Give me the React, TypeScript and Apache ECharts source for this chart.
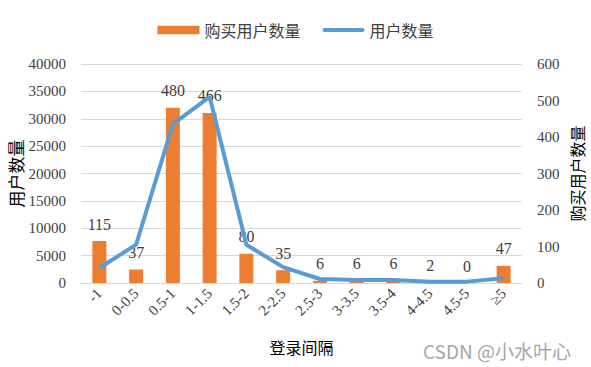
import React, { useEffect, useRef } from "react";
import * as echarts from "echarts";

const categories = ["-1", "0-0.5", "0.5-1", "1-1.5", "1.5-2", "2-2.5", "2.5-3", "3-3.5", "3.5-4", "4-4.5", "4.5-5", "≥5"];
const buyUsers = [115, 37, 480, 466, 80, 35, 6, 6, 6, 2, 0, 47];
const users = [2750, 7000, 29000, 34000, 7000, 2900, 730, 550, 550, 250, 250, 850];
const leftTicks = { min: 0, max: 40000, interval: 5000 };
const rightTicks = { min: 0, max: 600, interval: 100 };

const serif = "'Liberation Serif', 'Times New Roman', serif";
const cjk = "'Noto Sans CJK SC', sans-serif";

export default function App() {
  const ref = useRef<HTMLDivElement>(null);
  useEffect(() => {
    const chart = echarts.init(ref.current!, undefined, { renderer: "svg" });
    chart.setOption({
      animation: false,
      legend: {
        top: 17,
        left: "center",
        itemWidth: 42,
        itemHeight: 10,
        itemGap: 22,
        symbolKeepAspect: true,
        textStyle: { fontFamily: cjk, fontSize: 16, color: "#404040" },
        data: [
          { name: "购买用户数量", icon: "path://M0,0 H40 V8 H0 Z" },
          { name: "用户数量", icon: "path://M2,0 H40 A2,2 0 0 1 40,4 H2 A2,2 0 0 1 2,0 Z" },
        ],
      },
      grid: { left: 81, right: 69, top: 64, bottom: 84, outerBoundsMode: "none", containLabel: false },
      xAxis: {
        type: "category",
        data: categories,
        name: "登录间隔",
        nameLocation: "middle",
        nameGap: 56,
        nameMoveOverlap: false,
        nameTextStyle: { fontFamily: cjk, fontSize: 16, color: "#000" },
        axisLine: { lineStyle: { color: "#d9d9d9", width: 1 } },
        axisTick: { show: false },
        axisLabel: { rotate: 45, interval: 0, fontFamily: serif, fontSize: 15, color: "#404040", margin: 8 },
      },
      yAxis: [
        {
          type: "value",
          ...leftTicks,
          name: "用户数量",
          nameLocation: "middle",
          nameRotate: 90,
          nameGap: 57,
          nameMoveOverlap: false,
          nameTextStyle: { fontFamily: cjk, fontSize: 17, color: "#000" },
          axisLine: { show: false },
          axisTick: { show: false },
          axisLabel: { fontFamily: serif, fontSize: 15, color: "#404040", margin: 15, formatter: (v: number) => String(v) },
          splitLine: { lineStyle: { color: "#d9d9d9", width: 1 } },
        },
        {
          type: "value",
          ...rightTicks,
          name: "购买用户数量",
          nameLocation: "middle",
          nameRotate: 90,
          nameGap: 47,
          nameMoveOverlap: false,
          nameTextStyle: { fontFamily: cjk, fontSize: 16, color: "#000" },
          axisLine: { show: false },
          axisTick: { show: false },
          axisLabel: { fontFamily: serif, fontSize: 15, color: "#404040", margin: 15 },
          splitLine: { show: false },
        },
      ],
      series: [
        {
          name: "购买用户数量",
          type: "bar",
          yAxisIndex: 1,
          data: buyUsers,
          barWidth: 14,
          itemStyle: { color: "#ED7D31" },
          label: { show: true, position: "top", distance: 9, fontFamily: serif, fontSize: 16, color: "#404040" },
          z: 2,
        },
        {
          name: "用户数量",
          type: "line",
          yAxisIndex: 0,
          data: users,
          symbol: "none",
          lineStyle: { color: "#5B9BD5", width: 4 },
          itemStyle: { color: "#5B9BD5" },
          z: 3,
        },
      ],
      graphic: [
        {
          type: "text",
          left: 423,
          top: 341,
          style: { text: "CSDN @小水叶心", fontFamily: cjk, fontSize: 19, fill: "#a6a6a6" },
        },
      ],
    });
    return () => chart.dispose();
  }, []);
  return <div ref={ref} style={{ width: 591, height: 367, position: "absolute", left: 0, top: 0 }} />;
}
